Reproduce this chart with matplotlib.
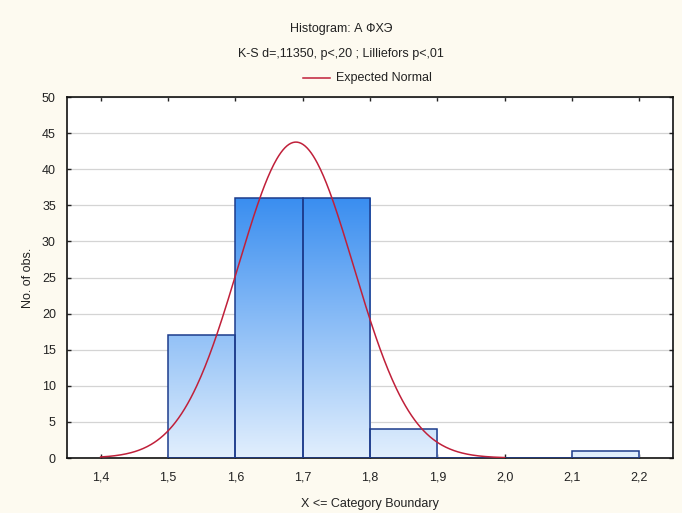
import numpy as np
import matplotlib
matplotlib.use("Agg")
import matplotlib.pyplot as plt
from matplotlib.lines import Line2D
from matplotlib.colors import LinearSegmentedColormap

plt.rcParams['font.family'] = ['Liberation Sans', 'DejaVu Sans']

# histogram data (category boundaries and counts)
bin_left  = [1.5, 1.6, 1.7, 1.8, 1.9, 2.0, 2.1]
bin_count = [17, 36, 36, 4, 0, 0, 1]
bin_width = 0.1

# expected normal parameters
norm_n    = 94
norm_mean = 1.69
norm_sd   = 0.0857

x_ticks  = [1.4, 1.5, 1.6, 1.7, 1.8, 1.9, 2.0, 2.1, 2.2]
x_labels = ['1,4', '1,5', '1,6', '1,7', '1,8', '1,9', '2,0', '2,1', '2,2']
y_ticks  = [0, 5, 10, 15, 20, 25, 30, 35, 40, 45, 50]

title1 = 'Histogram: А ФХЭ'
title2 = 'K-S d=,11350, p<,20 ; Lilliefors p<,01'

##################################
fig = plt.figure(figsize=(6.82, 5.13), dpi=100)
fig.patch.set_facecolor('#fdfaf0')
ax = fig.add_axes([0.0982, 0.1072, 0.8886, 0.7037])
ax.set_facecolor('white')

##################################
# gradient filled bars
cmap = LinearSegmentedColormap.from_list('bl', ['#e2effd', '#3a8ef0'])
grad = np.linspace(0, 1, 256).reshape(-1, 1)
bars = ax.bar(bin_left, bin_count, width=bin_width, align='edge',
              facecolor='none', edgecolor='#1d3c8c', linewidth=1.1, zorder=3)
for b in bars:
    if b.get_height() <= 0:
        continue
    im = ax.imshow(grad, cmap=cmap, aspect='auto', origin='lower',
                   extent=[1.35, 2.25, 0, 36], zorder=2, interpolation='bilinear')
    im.set_clip_path(b)
ax.set_xlim(1.35, 2.25)
ax.set_ylim(0, 50)

##################################
# expected normal curve
xs = np.linspace(1.4, 2.0, 400)
ys = norm_n * bin_width / (norm_sd * np.sqrt(2 * np.pi)) * np.exp(-0.5 * ((xs - norm_mean) / norm_sd) ** 2)
ax.plot(xs, ys, color='#c0203a', linewidth=1.1, zorder=4)

##################################
ax.yaxis.grid(True, color='#d4d4d4', linewidth=0.9, zorder=1)
ax.set_axisbelow(True)
ax.set_xticks(x_ticks)
ax.set_xticklabels(x_labels)
ax.set_yticks(y_ticks)
ax.tick_params(direction='in', length=3, width=1, colors='#222222', labelsize=9,
               top=True, right=True)
ax.tick_params(axis='x', pad=10)
ax.tick_params(axis='y', pad=8)
for sp in ax.spines.values():
    sp.set_linewidth(1.2)
    sp.set_color('#111111')

ax.set_xlabel('X <= Category Boundary', fontsize=9, color='#222222', labelpad=10)
ax.set_ylabel('No. of obs.', fontsize=9, color='#222222', labelpad=6)

fig.text(0.5, (513 - 29) / 513, title1, ha='center', va='center', fontsize=9, color='#222222')
fig.text(0.5, (513 - 54) / 513, title2, ha='center', va='center', fontsize=9, color='#222222')
ly = (513 - 78) / 513
fig.add_artist(Line2D([303 / 682, 330 / 682], [ly, ly], color='#c0203a', linewidth=1.1))
fig.text(336 / 682, ly, 'Expected Normal', ha='left', va='center', fontsize=9, color='#222222')

fig.savefig('out.png', dpi=100, facecolor=fig.get_facecolor())
